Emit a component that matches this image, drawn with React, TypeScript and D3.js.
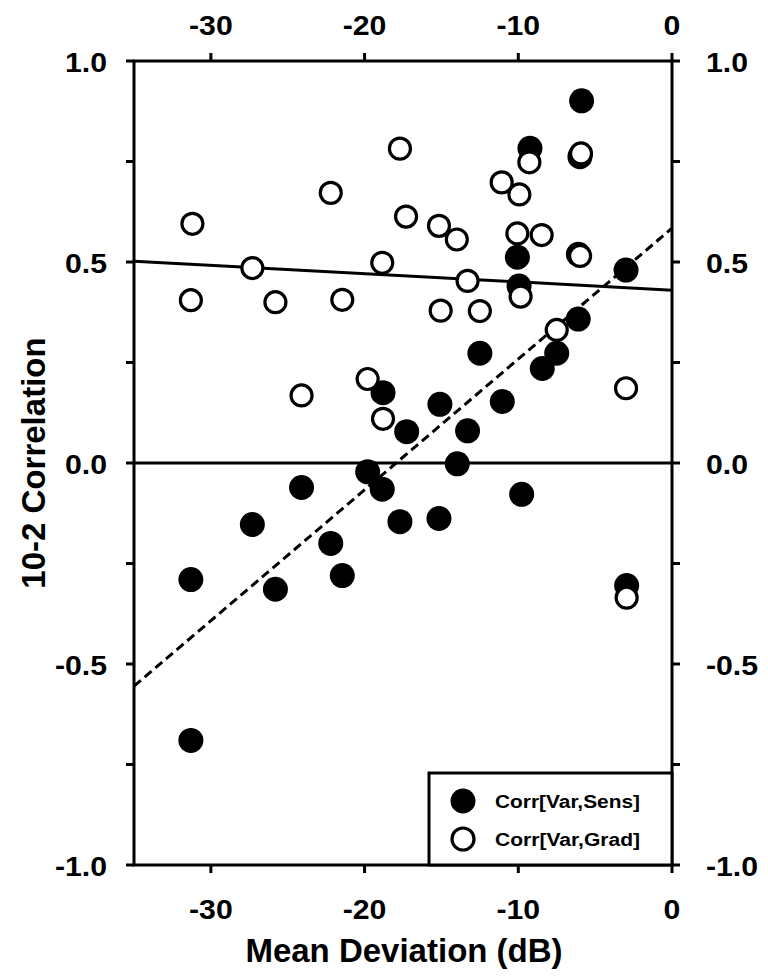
import React from "react";
import * as d3 from "d3";

// Mean deviation (dB) and correlation for Corr[Var,Sens] (filled)
const sensMD = [-31.3, -31.3, -27.3, -25.8, -24.1, -22.2, -21.45, -19.8, -18.85, -18.8, -17.7, -17.26, -15.16, -15.1, -13.97, -13.3, -12.5, -11.04, -10.06, -9.95, -9.78, -9.24, -8.44, -7.5, -6.1, -6.09, -5.99, -5.88, -2.99, -2.95];
const sensCorr = [-0.29, -0.69, -0.153, -0.314, -0.061, -0.2, -0.28, -0.022, -0.065, 0.175, -0.146, 0.078, -0.138, 0.146, -0.002, 0.08, 0.273, 0.153, 0.512, 0.44, -0.078, 0.783, 0.235, 0.273, 0.358, 0.519, 0.762, 0.901, 0.48, -0.305];

// Corr[Var,Grad] (open)
const gradMD = [-31.2, -31.3, -27.3, -25.8, -24.1, -22.2, -21.45, -19.8, -18.85, -18.8, -17.7, -17.3, -15.16, -15.05, -14.0, -13.3, -12.5, -11.08, -10.06, -9.93, -9.85, -9.28, -8.48, -7.5, -5.98, -5.92, -2.99, -2.95];
const gradCorr = [0.595, 0.405, 0.485, 0.4, 0.168, 0.672, 0.406, 0.209, 0.498, 0.11, 0.782, 0.613, 0.59, 0.379, 0.556, 0.453, 0.378, 0.698, 0.571, 0.668, 0.414, 0.748, 0.567, 0.331, 0.515, 0.77, 0.186, -0.335];

// Regression line endpoints
const fitX = [-35, 0];
const sensFitY = [-0.555, 0.584];
const gradFitY = [0.502, 0.43];

const xTicks = [-30, -20, -10, 0];
const yTicks = [-1, -0.75, -0.5, -0.25, 0, 0.25, 0.5, 0.75, 1];
const yLabels = [-1, -0.5, 0, 0.5, 1];

const legendLabels = ["Corr[Var,Sens]", "Corr[Var,Grad]"];

const FONT = "'Liberation Sans', Arial, sans-serif";

const fmt = (t: number) => (t < 0 ? "-" : "") + Math.abs(t).toFixed(1);

export default function App() {
  const x = d3.scaleLinear().domain([-35, 0]).range([134, 672]);
  const y = d3.scaleLinear().domain([-1, 1]).range([865, 61]);
  const [x0, x1] = x.range();
  const [yb, yt] = y.range();
  const line = d3
    .line<[number, number]>()
    .x((d) => x(d[0]))
    .y((d) => y(d[1]));
  const sensFit: [number, number][] = fitX.map((v, i) => [v, sensFitY[i]]);
  const gradFit: [number, number][] = fitX.map((v, i) => [v, gradFitY[i]]);
  const tl = 8;
  const sw = 3;
  const sx = 1.08;
  const tickStyle = { fontFamily: FONT, fontWeight: 700, fontSize: 28 } as const;

  return (
    <svg width={768} height={980} style={{ position: "absolute", left: 0, top: 0, background: "#fff" }}>
      <rect x={0} y={0} width={768} height={980} fill="#fff" />
      {/* zero line */}
      <line x1={x0} x2={x1} y1={y(0)} y2={y(0)} stroke="#000" strokeWidth={sw} />
      {/* regression lines */}
      <path d={line(gradFit) || ""} fill="none" stroke="#000" strokeWidth={sw} />
      <path d={line(sensFit) || ""} fill="none" stroke="#000" strokeWidth={sw} strokeDasharray="9,5" />
      {/* points */}
      {sensMD.map((v, i) => (
        <circle key={"s" + i} cx={x(v)} cy={y(sensCorr[i])} r={12.5} fill="#000" />
      ))}
      {gradMD.map((v, i) => (
        <circle key={"g" + i} cx={x(v)} cy={y(gradCorr[i])} r={10.5} fill="#fff" stroke="#000" strokeWidth={3.2} />
      ))}
      {/* frame */}
      <rect x={x0} y={yt} width={x1 - x0} height={yb - yt} fill="none" stroke="#000" strokeWidth={sw} />
      {/* x ticks */}
      {xTicks.map((t) => (
        <g key={"xt" + t}>
          <line x1={x(t)} x2={x(t)} y1={yt} y2={yt - tl} stroke="#000" strokeWidth={sw} />
          <line x1={x(t)} x2={x(t)} y1={yb} y2={yb + tl} stroke="#000" strokeWidth={sw} />
          <text transform={`translate(${x(t)},35) scale(${sx},1)`} textAnchor="middle" {...tickStyle}>
            {String(t)}
          </text>
          <text transform={`translate(${x(t)},919) scale(${sx},1)`} textAnchor="middle" {...tickStyle}>
            {String(t)}
          </text>
        </g>
      ))}
      {/* y ticks */}
      {yTicks.map((t) => (
        <g key={"yt" + t}>
          <line x1={x0} x2={x0 - tl} y1={y(t)} y2={y(t)} stroke="#000" strokeWidth={sw} />
          <line x1={x1} x2={x1 + tl} y1={y(t)} y2={y(t)} stroke="#000" strokeWidth={sw} />
        </g>
      ))}
      {yLabels.map((t) => (
        <g key={"yl" + t}>
          <text transform={`translate(107,${y(t) + 11}) scale(${sx},1)`} textAnchor="end" {...tickStyle}>
            {fmt(t)}
          </text>
          <text transform={`translate(706,${y(t) + 11}) scale(${sx},1)`} textAnchor="start" {...tickStyle}>
            {fmt(t)}
          </text>
        </g>
      ))}
      {/* axis titles */}
      <text x={404} y={962} textAnchor="middle" fontFamily={FONT} fontWeight={700} fontSize={33}>
        Mean Deviation (dB)
      </text>
      <text transform={`translate(45,${y(0)}) rotate(-90)`} textAnchor="middle" fontFamily={FONT} fontWeight={700} fontSize={33}>
        10-2 Correlation
      </text>
      {/* legend */}
      <rect x={429} y={773} width={x1 - 429} height={yb - 773} fill="#fff" stroke="#000" strokeWidth={sw} />
      <circle cx={463} cy={801} r={12.5} fill="#000" />
      <circle cx={463} cy={839} r={11} fill="#fff" stroke="#000" strokeWidth={3.2} />
      {legendLabels.map((l, i) => (
        <text key={l} x={495} y={808 + i * 38} fontFamily={FONT} fontWeight={700} fontSize={18} textLength={145} lengthAdjust="spacingAndGlyphs">
          {l}
        </text>
      ))}
    </svg>
  );
}
